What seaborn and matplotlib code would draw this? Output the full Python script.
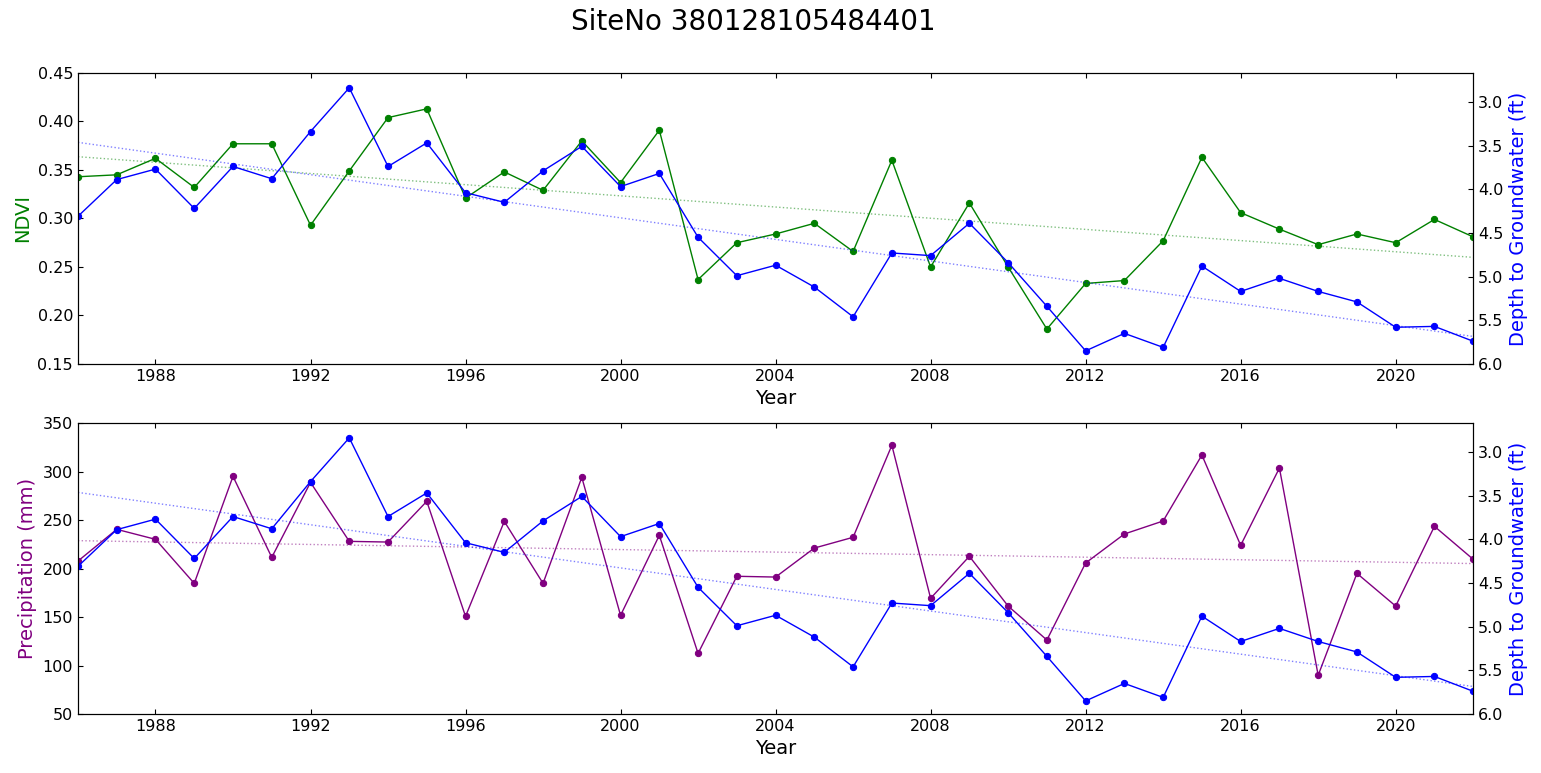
import numpy as np
import pandas as pd
import matplotlib
matplotlib.use("Agg")
import matplotlib.pyplot as plt
import seaborn as sns

site_no = "380128105484401"
years = list(range(1986, 2023))
ndvi = [0.343, 0.345, 0.362, 0.332, 0.377, 0.377, 0.293, 0.349, 0.404, 0.413,
        0.321, 0.348, 0.329, 0.380, 0.337, 0.391, 0.237, 0.275, 0.284, 0.295,
        0.266, 0.360, 0.250, 0.316, 0.250, 0.186, 0.233, 0.236, 0.277, 0.363,
        0.306, 0.289, 0.273, 0.284, 0.275, 0.299, 0.281]
depth = [4.31, 3.89, 3.77, 4.22, 3.74, 3.88, 3.34, 2.84, 3.74, 3.47,
         4.04, 4.15, 3.79, 3.51, 3.97, 3.82, 4.55, 4.99, 4.87, 5.12,
         5.46, 4.73, 4.76, 4.39, 4.84, 5.34, 5.85, 5.65, 5.81, 4.88,
         5.17, 5.02, 5.17, 5.29, 5.58, 5.57, 5.74]
precip = [207.7, 240.4, 230.1, 184.7, 295.0, 211.5, 288.8, 228.0, 227.3, 269.3,
          150.7, 248.6, 184.7, 294.0, 151.7, 234.2, 112.5, 192.0, 191.2, 221.1,
          232.2, 327.0, 169.3, 212.6, 161.3, 126.3, 205.7, 235.6, 249.0, 317.0,
          223.9, 303.6, 89.9, 195.0, 161.3, 243.5, 209.5]

df = pd.DataFrame({"year": years, "ndvi": ndvi, "depth": depth, "precip": precip})

sns.set_style("ticks", rc={
    "xtick.direction": "in", "ytick.direction": "in",
    "xtick.top": True, "xtick.bottom": True,
    "axes.linewidth": 1.0, "axes.edgecolor": "black",
    "xtick.major.size": 4, "ytick.major.size": 4,
    "text.color": "black", "axes.labelcolor": "black",
    "xtick.color": "black", "ytick.color": "black",
})
plt.rcParams["font.family"] = ["DejaVu Sans"]

fig, axes = plt.subplots(2, 1, figsize=(15.41, 7.73), dpi=100)
fig.subplots_adjust(left=0.0506, right=0.956, top=0.9056, bottom=0.0763, hspace=0.203)


def draw_panel(ax, col, color, ylabel, ylim):
    sns.regplot(data=df, x="year", y=col, ax=ax, scatter=False, ci=None,
                line_kws=dict(ls=":", lw=1.0, color=color, alpha=0.5))
    sns.lineplot(data=df, x="year", y=col, ax=ax, color=color, lw=1.0,
                 marker="o", markersize=4.5, markeredgecolor=color)
    ax.set_ylim(*ylim)
    ax.set_ylabel(ylabel, color=color, fontsize=14)
    ax.set_xlabel("Year", fontsize=14)
    ax.tick_params(labelsize=11.5, right=False)

    # groundwater depth on an inverted right axis
    ax2 = ax.twinx()
    sns.regplot(data=df, x="year", y="depth", ax=ax2, scatter=False, ci=None,
                line_kws=dict(ls=":", lw=1.0, color="blue", alpha=0.5))
    sns.lineplot(data=df, x="year", y="depth", ax=ax2, color="blue", lw=1.0,
                 marker="o", markersize=4.5, markeredgecolor="blue")
    ax2.set_ylim(6.0, 2.67)
    ax2.set_yticks(np.arange(3.0, 6.01, 0.5))
    ax2.set_ylabel("Depth to Groundwater (ft)", color="blue", fontsize=14)
    ax2.tick_params(labelsize=11.5, direction="in")
    ax2.set_xlabel("")

    ax.set_xlim(1986, 2022)
    ax.set_xticks(range(1988, 2021, 4))
    ax2.set_xlim(1986, 2022)


draw_panel(axes[0], "ndvi", "green", "NDVI", (0.15, 0.45))
draw_panel(axes[1], "precip", "purple", "Precipitation (mm)", (50, 350))

fig.suptitle(f"SiteNo {site_no}", fontsize=20, x=0.4887, y=0.9715, va="center")
fig.savefig("out.png", dpi=100)
